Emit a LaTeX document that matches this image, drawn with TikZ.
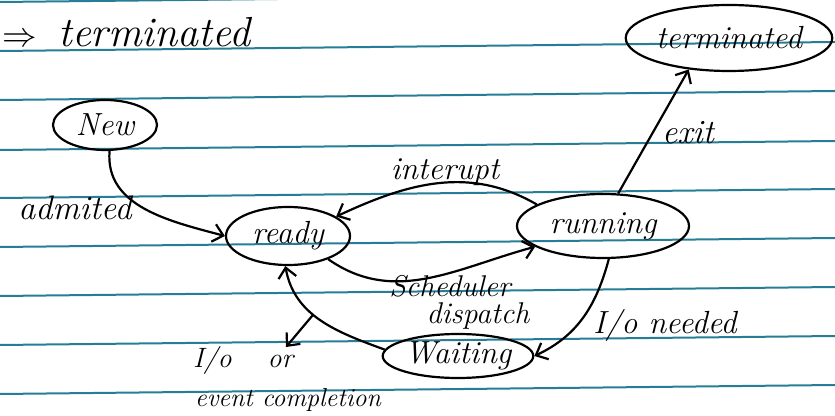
\documentclass[tikz,border=0pt]{standalone}
\usepackage{tikz}
\usetikzlibrary{arrows.meta, positioning, shapes.geometric}
\definecolor{ruling}{RGB}{40,125,150}

\begin{document}
\begin{tikzpicture}[x=0.5pt, y=0.5pt,
    state/.style={draw, ellipse, line width=1.1pt, inner sep=0pt, font=\fontsize{16}{19}\selectfont\itshape},
    note/.style={font=\fontsize{16}{19}\selectfont\itshape},
    flow/.style={line width=1.1pt, -{Straight Barb[length=5pt, width=9pt]}}]
  \clip (0,0) rectangle (835,-416);
  \foreach \y in {2,51,100,150,198,247,296,345,394}
    \draw[ruling, line width=1pt] (0,-\y) -- (835,-\y+9);

  \node[anchor=base west, inner sep=1pt, font=\fontsize{18}{22}\selectfont] (headarrow) at (0,-47) {$\Rightarrow$};
  \node[base right=6pt of headarrow, font=\fontsize{21}{24}\selectfont\itshape] (head) {terminated};

  \node[state, minimum width=52pt, minimum height=25pt] (new) at (105,-125) {New};
  \node[state, minimum width=62pt, minimum height=29pt] (ready) at (288,-236) {ready};
  \node[state, minimum width=86pt, minimum height=32pt] (run) at (603,-226) {running};
  \node[state, minimum width=101pt, minimum height=33pt] (term) at (729,-38) {terminated};
  \node[state, minimum width=75pt, minimum height=22pt] (wait) at (458,-356) {Waiting};

  \node[note, font=\fontsize{17}{20}\selectfont\itshape] (admit) at (75,-208) {admited};
  \node[note] (intr) at (445,-172) {interupt};
  \node[note, font=\fontsize{15}{18}\selectfont\itshape] (sched) at (450,-286) {Scheduler};
  \node[note, font=\fontsize{15}{18}\selectfont\itshape] (disp) at (478,-316) {dispatch};
  \node[note, font=\fontsize{17}{20}\selectfont\itshape] (exit) at (688,-133) {exit};
  \node[note] (ioneed) at (665,-326) {I/o needed};
  \node[note, anchor=west, font=\fontsize{14}{17}\selectfont\itshape] (ioor) at (186,-361) {I/o\hspace{18pt}or};
  \node[note, anchor=west, font=\fontsize{13}{16}\selectfont\itshape] (evt) at (188,-400) {event completion};
  \coordinate (iotip) at (286,-347);

  \draw[flow] (new.-80) to[out=-95, in=165] (ready.west);
  \draw[flow] (run.162) to[out=150, in=25] (ready.22);
  \draw[flow] (ready.-30) to[out=-35, in=195] (run.197);
  \draw[flow] (run.65) -- (term.218);
  \draw[flow] (run.-80) to[out=-105, in=25] (wait.east);
  \draw[flow] (wait.175) to[out=160, in=-80] coordinate[pos=0.57] (tick) (ready.-95);
  \draw[flow] (tick) -- (iotip);
\end{tikzpicture}
\end{document}
